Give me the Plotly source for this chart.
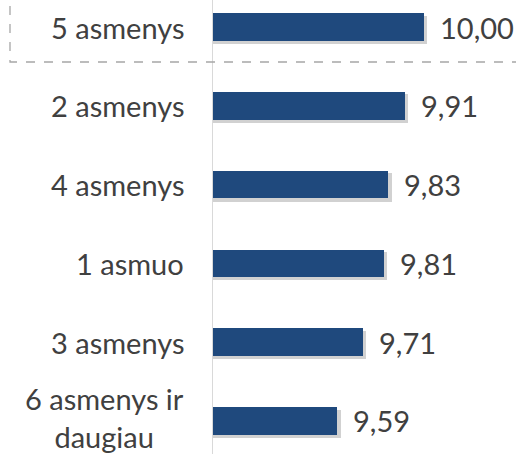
import plotly.graph_objects as go

categories = ["6 asmenys ir<br>daugiau", "3 asmenys", "1 asmuo", "4 asmenys", "2 asmenys", "5 asmenys"]
values = [9.59, 9.71, 9.81, 9.83, 9.91, 10.00]
value_labels = ["9,59", "9,71", "9,81", "9,83", "9,91", "10,00"]

W, H = 516, 454
ML = 213
FONT = "Lato"
TXT = "#404040"
BAR = "#1F497D"

fig = go.Figure()
# soft drop shadow
fig.add_trace(go.Bar(
    y=categories, x=[v + 0.016 for v in values], orientation="h",
    width=0.36, offset=-0.215, marker=dict(color="rgba(0,0,0,0.18)", line=dict(width=0)),
    hoverinfo="skip", showlegend=False))
fig.add_trace(go.Bar(
    y=categories, x=values, orientation="h",
    width=0.35, offset=-0.175, marker=dict(color=BAR, line=dict(width=0)),
    showlegend=False))

annotations = []
for c, v, t in zip(categories, values, value_labels):
    annotations.append(dict(x=v, y=c, xref="x", yref="y", text=t, showarrow=False,
                            xanchor="left", xshift=14, font=dict(family=FONT, size=29, color=TXT)))
    annotations.append(dict(x=0, y=c, xref="paper", yref="y", text=c, showarrow=False,
                            xanchor="right", xshift=-27, align="center",
                            yshift=3 if "<br>" in c else 0,
                            font=dict(family=FONT, size=29, color=TXT)))

shapes = [
    dict(type="path", xref="paper", yref="paper",
         path=f"M {(10-ML)/(W-ML)} {1-6/H} L {(10-ML)/(W-ML)} {1-62/H} L 1.0 {1-62/H}",
         line=dict(color="#a6a6a6", width=1.3, dash="dash")),
]

fig.update_layout(
    width=W, height=H, margin=dict(l=ML, r=0, t=0, b=0),
    plot_bgcolor="white", paper_bgcolor="white",
    barmode="overlay", bargap=0,
    xaxis=dict(range=[9.0, 9.0 + (W - ML) / 211], showgrid=False, zeroline=False,
               showticklabels=False, showline=False),
    yaxis=dict(categoryorder="array", categoryarray=categories, range=[-0.419, 5.343],
               showgrid=False, zeroline=False, showticklabels=False,
               showline=True, linecolor="#d9d9d9", linewidth=1.3),
    annotations=annotations, shapes=shapes,
)
fig.write_html("out.html", config={"displayModeBar": False},
               post_script="document.body.style.margin='0px';document.body.style.overflow='hidden';")
